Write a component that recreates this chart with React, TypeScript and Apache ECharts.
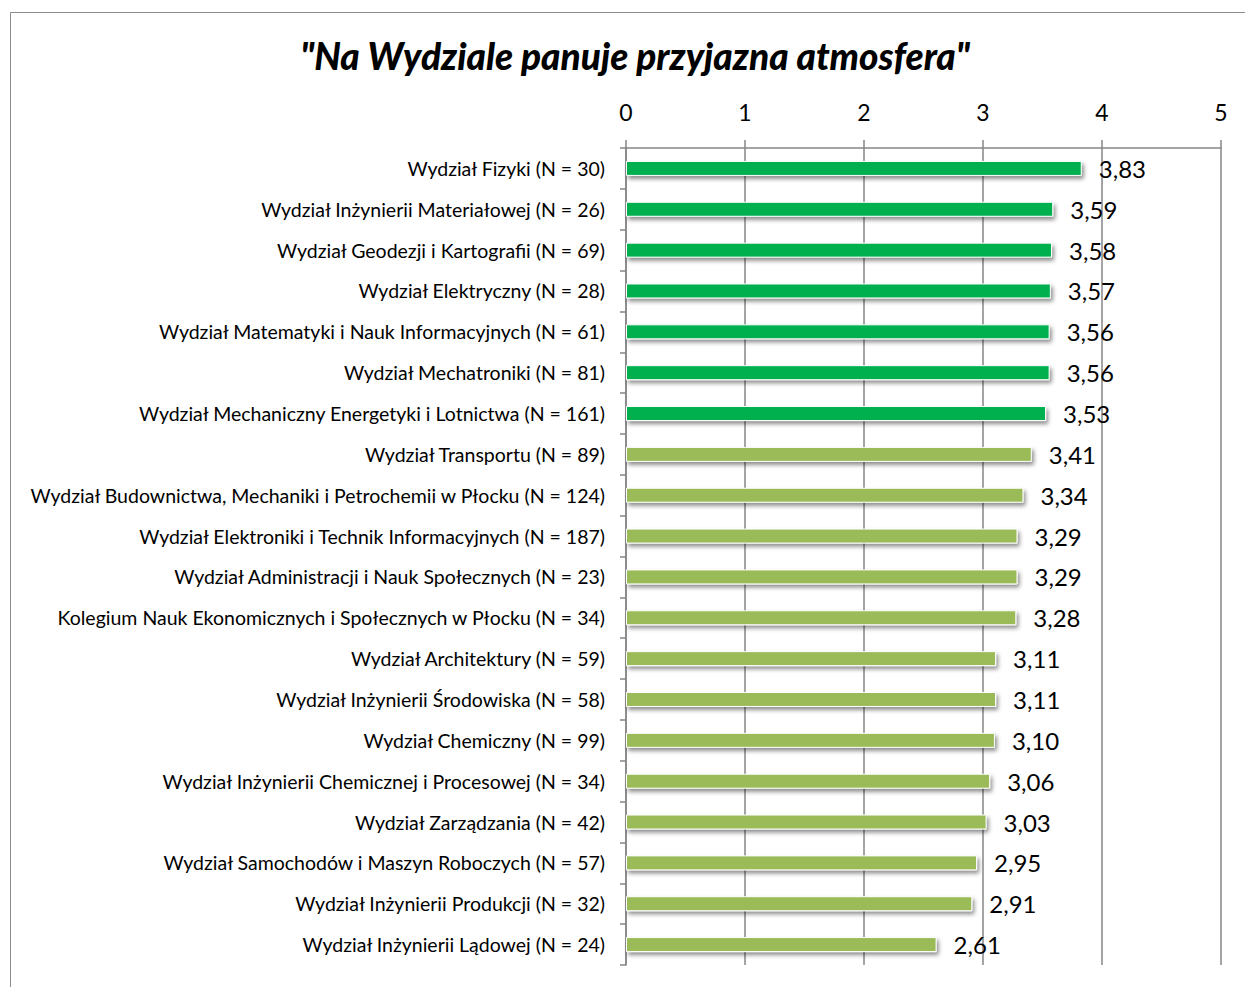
import React, { useEffect, useRef } from "react";
import * as echarts from "echarts";

const title = '"Na Wydziale panuje przyjazna atmosfera"';

const categories = [
  "Wydział Fizyki (N = 30)",
  "Wydział Inżynierii Materiałowej (N = 26)",
  "Wydział Geodezji i Kartografii (N = 69)",
  "Wydział Elektryczny (N = 28)",
  "Wydział Matematyki i Nauk Informacyjnych (N = 61)",
  "Wydział Mechatroniki (N = 81)",
  "Wydział Mechaniczny Energetyki i Lotnictwa (N = 161)",
  "Wydział Transportu (N = 89)",
  "Wydział Budownictwa, Mechaniki i Petrochemii w Płocku (N = 124)",
  "Wydział Elektroniki i Technik Informacyjnych (N = 187)",
  "Wydział Administracji i Nauk Społecznych (N = 23)",
  "Kolegium Nauk Ekonomicznych i Społecznych w Płocku (N = 34)",
  "Wydział Architektury (N = 59)",
  "Wydział Inżynierii Środowiska (N = 58)",
  "Wydział Chemiczny (N = 99)",
  "Wydział Inżynierii Chemicznej i Procesowej (N = 34)",
  "Wydział Zarządzania (N = 42)",
  "Wydział Samochodów i Maszyn Roboczych (N = 57)",
  "Wydział Inżynierii Produkcji (N = 32)",
  "Wydział Inżynierii Lądowej (N = 24)",
];

const values = [
  3.83, 3.59, 3.58, 3.57, 3.56, 3.56, 3.53, 3.41, 3.34, 3.29, 3.29, 3.28, 3.11,
  3.11, 3.1, 3.06, 3.03, 2.95, 2.91, 2.61,
];

// group: "top" = dark green, "rest" = light green
const groups = [
  "top", "top", "top", "top", "top", "top", "top",
  "rest", "rest", "rest", "rest", "rest", "rest", "rest",
  "rest", "rest", "rest", "rest", "rest", "rest",
];

const groupColors: Record<string, string> = {
  top: "#00B050",
  rest: "#9BBB59",
};

const xTicks = [0, 1, 2, 3, 4, 5];

export default function App() {
  const ref = useRef<HTMLDivElement>(null);

  useEffect(() => {
    if (!ref.current) return;
    const chart = echarts.init(ref.current, undefined, { renderer: "svg" });
    const font = "Lato, 'Open Sans', sans-serif";
    const gray = "#868686";
    chart.setOption({
      animation: false,
      backgroundColor: "#ffffff",
      textStyle: { fontFamily: font },
      graphic: [
        {
          type: "rect",
          shape: { x: 10.5, y: 12.5, width: 1300, height: 1000 },
          style: { fill: "none", stroke: "#8c8c8c", lineWidth: 1 },
          silent: true,
        },
        {
          type: "text",
          x: 635,
          y: 55,
          style: {
            text: title,
            font: `italic 900 37px ${font}`,
            fill: "#000",
            align: "center",
            verticalAlign: "middle",
          },
        },
      ],
      grid: { left: 626, right: 24, top: 148, bottom: 22, containLabel: false },
      xAxis: {
        type: "value",
        position: "top",
        min: xTicks[0],
        max: xTicks[xTicks.length - 1],
        interval: 1,
        axisLine: { show: true, lineStyle: { color: gray, width: 1.5 } },
        axisTick: { show: true, inside: false, length: 8, lineStyle: { color: gray, width: 1.5 } },
        splitLine: { show: true, lineStyle: { color: gray, width: 1.5 } },
        axisLabel: { fontSize: 23, color: "#000", margin: 25, fontFamily: font },
      },
      yAxis: {
        type: "category",
        inverse: true,
        data: categories,
        axisLine: { show: true, lineStyle: { color: gray, width: 1.5 } },
        axisTick: { show: true, inside: false, length: 6, lineStyle: { color: gray, width: 1.5 } },
        axisLabel: { fontSize: 19.5, color: "#000", margin: 21, fontFamily: font },
      },
      series: [
        {
          type: "bar",
          barWidth: 15,
          data: values.map((v, i) => ({
            value: v,
            itemStyle: { color: groupColors[groups[i]] },
          })),
          itemStyle: {
            borderColor: "#ffffff",
            borderWidth: 1,
            shadowBlur: 4,
            shadowOffsetX: 2,
            shadowOffsetY: 3,
            shadowColor: "rgba(0,0,0,0.45)",
          },
          label: {
            show: true,
            position: "right",
            distance: 17,
            fontSize: 24,
            color: "#000",
            fontFamily: font,
            offset: [0, 0],
            formatter: (p: any) => Number(p.value).toFixed(2).replace(".", ","),
          },
        },
      ],
    });
    return () => chart.dispose();
  }, []);

  return (
    <div
      ref={ref}
      style={{ position: "absolute", left: 0, top: 0, width: 1245, height: 987 }}
    />
  );
}
